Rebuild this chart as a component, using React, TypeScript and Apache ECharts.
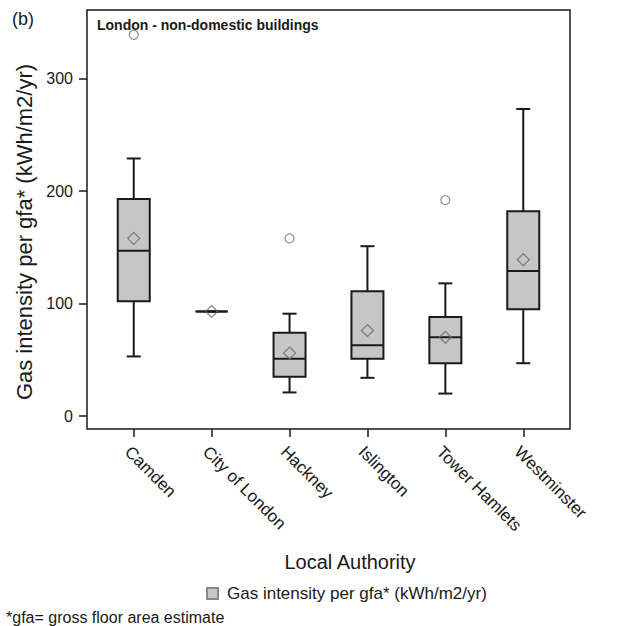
import React, { useEffect, useRef } from "react";
import * as echarts from "echarts";

const categories = ["Camden", "City of London", "Hackney", "Islington", "Tower Hamlets", "Westminster"];
const whiskerLow = [53, 93, 21, 34, 20, 47];
const q1 = [102, 93, 35, 51, 47, 95];
const median = [147, 93, 51, 63, 70, 129];
const q3 = [193, 93, 74, 111, 88, 182];
const whiskerHigh = [229, 93, 91, 151, 118, 273];
const means = [158, 93, 56, 76, 70, 139];
const outliers: [number, number][] = [[0, 339], [2, 158], [4, 192]];
const yTicks = [0, 100, 200, 300];
const seriesName = "Gas intensity per gfa* (kWh/m2/yr)";

const FONT = "'Liberation Sans', Arial, Helvetica, sans-serif";

export default function App() {
  const ref = useRef<HTMLDivElement>(null);
  useEffect(() => {
    if (!ref.current) return;
    const chart = echarts.init(ref.current, null, { renderer: "svg" });
    const boxData = categories.map((_, i) => [i, whiskerLow[i], q1[i], median[i], q3[i], whiskerHigh[i]]);
    const meanData = categories.map((_, i) => [i, means[i]]);
    chart.setOption({
      animation: false,
      textStyle: { fontFamily: FONT },
      grid: {
        left: 87, right: 48, top: 10, bottom: 197,
        show: true, borderColor: "#1a1a1a", borderWidth: 1.5, backgroundColor: "transparent",
      },
      xAxis: {
        type: "value", min: -0.6, max: 5.6,
        axisLine: { show: false, onZero: false },
        splitLine: { show: false },
        axisTick: { show: true, length: 8, customValues: [0, 1, 2, 3, 4, 5], lineStyle: { color: "#1a1a1a", width: 1.5 } },
        axisLabel: {
          customValues: [0, 1, 2, 3, 4, 5],
          formatter: (v: number) => categories[Math.round(v)] ?? "",
          rotate: -45, margin: 14, fontSize: 17, color: "#1a1a1a", fontFamily: FONT,
          verticalAlign: "top",
        },
      },
      yAxis: {
        type: "value", min: -11.5, max: 361,
        axisLine: { show: false, onZero: false },
        splitLine: { show: false },
        axisTick: { show: true, length: 8, customValues: yTicks, lineStyle: { color: "#1a1a1a", width: 1.5 } },
        axisLabel: { customValues: yTicks, margin: 14, fontSize: 16, color: "#1a1a1a", fontFamily: FONT },
      },
      legend: {
        data: [seriesName],
        left: 201, top: 580,
        icon: "rect", itemWidth: 11, itemHeight: 11,
        textStyle: { fontSize: 17, color: "#1a1a1a", fontFamily: FONT, padding: [0, 0, 0, 4] },
      },
      graphic: [
        { type: "text", left: 12, top: 10, style: { text: "(b)", fontSize: 18, fill: "#1a1a1a", fontFamily: FONT } },
        { type: "text", left: 97, top: 18, style: { text: "London - non-domestic buildings", fontSize: 14, fontWeight: "bold", fill: "#1a1a1a", fontFamily: FONT } },
        {
          type: "text", x: 24, y: 232, rotation: Math.PI / 2,
          style: { text: "Gas intensity per gfa* (kWh/m2/yr)", fontSize: 22, fill: "#1a1a1a", fontFamily: FONT, align: "center", verticalAlign: "middle" },
        },
        { type: "text", x: 350, y: 562, style: { text: "Local Authority", fontSize: 20, fill: "#1a1a1a", fontFamily: FONT, align: "center", verticalAlign: "middle" } },
        { type: "text", left: 6, top: 609, style: { text: "*gfa= gross floor area estimate", fontSize: 16, fill: "#1a1a1a", fontFamily: FONT } },
      ],
      series: [
        {
          name: seriesName,
          type: "custom",
          itemStyle: { color: "#c6c6c6", borderColor: "#888", borderWidth: 1 },
          encode: { x: 0, y: [1, 2, 3, 4, 5] },
          data: boxData,
          renderItem: (params: any, api: any) => {
            const x = api.value(0);
            const pLow = api.coord([x, api.value(1)]);
            const pQ1 = api.coord([x, api.value(2)]);
            const pMed = api.coord([x, api.value(3)]);
            const pQ3 = api.coord([x, api.value(4)]);
            const pHigh = api.coord([x, api.value(5)]);
            const cx = pLow[0];
            const hw = 16;
            const cw = 7;
            const st = { stroke: "#1a1a1a", lineWidth: 2 };
            return {
              type: "group",
              children: [
                { type: "line", shape: { x1: cx, y1: pHigh[1], x2: cx, y2: pQ3[1] }, style: st },
                { type: "line", shape: { x1: cx, y1: pQ1[1], x2: cx, y2: pLow[1] }, style: st },
                { type: "line", shape: { x1: cx - cw, y1: pHigh[1], x2: cx + cw, y2: pHigh[1] }, style: st },
                { type: "line", shape: { x1: cx - cw, y1: pLow[1], x2: cx + cw, y2: pLow[1] }, style: st },
                { type: "rect", shape: { x: cx - hw, y: pQ3[1], width: 2 * hw, height: pQ1[1] - pQ3[1] }, style: { fill: "#c6c6c6", stroke: "#1a1a1a", lineWidth: 2 } },
                { type: "line", shape: { x1: cx - hw, y1: pMed[1], x2: cx + hw, y2: pMed[1] }, style: st },
              ],
            };
          },
        },
        {
          name: "Mean",
          type: "scatter",
          symbol: "diamond",
          symbolSize: [12, 12],
          itemStyle: { color: "rgba(0,0,0,0)", borderColor: "#6e6e6e", borderWidth: 1.3 },
          data: meanData,
          z: 5,
        },
        {
          name: "Outlier",
          type: "scatter",
          symbol: "circle",
          symbolSize: 9,
          itemStyle: { color: "rgba(0,0,0,0)", borderColor: "#7a7a7a", borderWidth: 1.3 },
          data: outliers,
          z: 5,
        },
      ],
    });
    return () => chart.dispose();
  }, []);
  return <div ref={ref} style={{ width: 618, height: 626, position: "absolute", left: 0, top: 0, background: "#fff" }} />;
}
